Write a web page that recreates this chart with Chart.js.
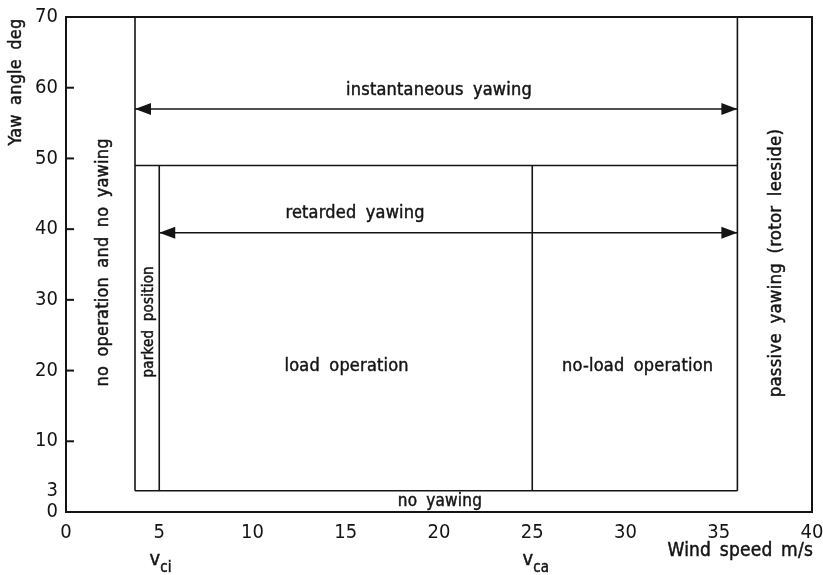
<!DOCTYPE html>
<html>
<head>
<meta charset="utf-8">
<script src="https://cdn.jsdelivr.net/npm/chart.js@4/dist/chart.umd.min.js"></script>
<style>
  html, body { margin: 0; padding: 0; background: #fff; }
  #wrap { width: 823px; height: 575px; }
</style>
</head>
<body>
<div id="wrap"><canvas id="c" width="823" height="575"></canvas></div>
<script>
// Axis ticks
const xTicks = [0, 5, 10, 15, 20, 25, 30, 35, 40];
const yTicks = [0, 3, 10, 20, 30, 40, 50, 60, 70];

// Wind speeds (m/s) bounding the operating regions:
// start of yawing, cut-in v_ci, cut-out v_ca, end of active yawing
const speedBounds = [3.7, 5, 25, 36];
// Yaw angles (deg): no-yawing limit, retarded/instantaneous limit, top of range
const yawBounds = [3, 49, 70];
// Yaw angles (deg) of the two range arrows: instantaneous, retarded
const arrowLevels = [57, 39.5];

// Region labels: text, wind speed, yaw angle, rotation (deg), font size
const regionText  = ['instantaneous yawing', 'retarded yawing', 'load operation', 'no-load operation',
                     'no yawing', 'no operation and no yawing', 'passive yawing (rotor leeside)', 'parked position'];
const regionSpeed = [20.0, 15.5, 15.05, 30.65, 20.05, 2.0, 38.1, 4.45];
const regionYaw   = [59.7, 42.2, 20.6, 20.6, 1.5, 35.3, 35.2, 26.9];
const regionRot   = [0, 0, 0, 0, 0, -90, -90, -90];
const regionSize  = [18, 18, 18, 18, 17, 18, 18.5, 15];

const FONT = '"Liberation Sans Narrow", "DejaVu Sans Condensed", "Arial Narrow", sans-serif';
const INK = '#141414';

const [vStart, vCi, vCa, vEnd] = speedBounds;
const [yLow, yMid, yTop] = yawBounds;

function seg(x1, y1, x2, y2) {
  return {
    data: [{ x: x1, y: y1 }, { x: x2, y: y2 }],
    showLine: true, borderColor: INK, borderWidth: 1.6,
    pointRadius: 0, fill: false
  };
}

const datasets = [
  seg(vStart, yLow, vStart, yTop),
  seg(vEnd, yLow, vEnd, yTop),
  seg(vStart, yMid, vEnd, yMid),
  seg(vStart, yLow, vEnd, yLow),
  seg(vCi, yLow, vCi, yMid),
  seg(vCa, yLow, vCa, yMid),
  seg(vStart, arrowLevels[0], vEnd, arrowLevels[0]),
  seg(vCi, arrowLevels[1], vEnd, arrowLevels[1])
];
// double-headed arrows: [from, to, level]
const arrows = [[vStart, vEnd, arrowLevels[0]], [vCi, vEnd, arrowLevels[1]]];

// lettering is drawn slightly heavier with a thin outline
function drawText(ctx, text, x, y, rot, size, align, baseline, ws) {
  ctx.save();
  ctx.translate(x, y);
  ctx.rotate(rot * Math.PI / 180);
  ctx.font = size + 'px ' + FONT;
  ctx.fillStyle = INK;
  ctx.strokeStyle = INK;
  ctx.lineWidth = 0.45;
  ctx.textAlign = align || 'center';
  ctx.textBaseline = baseline || 'middle';
  if ('letterSpacing' in ctx) ctx.letterSpacing = '0.2px';
  if ('wordSpacing' in ctx) ctx.wordSpacing = (ws == null ? 4 : ws) + 'px';
  ctx.fillText(text, 0, 0);
  ctx.strokeText(text, 0, 0);
  ctx.restore();
}

const decor = {
  id: 'decor',
  afterDatasetsDraw(chart) {
    const { ctx, chartArea: a, scales: { x, y } } = chart;
    ctx.save();
    // frame
    ctx.strokeStyle = INK;
    ctx.lineWidth = 2;
    ctx.strokeRect(a.left, a.top, a.right - a.left, a.bottom - a.top);
    // inward tick marks on the angle axis
    yTicks.filter(v => v % 10 === 0).forEach(v => {
      const py = y.getPixelForValue(v);
      ctx.beginPath();
      ctx.moveTo(a.left, py);
      ctx.lineTo(a.left + 8, py);
      ctx.stroke();
    });
    // arrowheads
    ctx.fillStyle = INK;
    const L = 16, W = 6;
    arrows.forEach(([x1, x2, lv]) => {
      const py = y.getPixelForValue(lv);
      const p1 = x.getPixelForValue(x1), p2 = x.getPixelForValue(x2);
      ctx.beginPath();
      ctx.moveTo(p1, py); ctx.lineTo(p1 + L, py - W); ctx.lineTo(p1 + L, py + W); ctx.closePath(); ctx.fill();
      ctx.beginPath();
      ctx.moveTo(p2, py); ctx.lineTo(p2 - L, py - W); ctx.lineTo(p2 - L, py + W); ctx.closePath(); ctx.fill();
    });
    // region labels
    regionText.forEach((t, i) => {
      drawText(ctx, t, x.getPixelForValue(regionSpeed[i]), y.getPixelForValue(regionYaw[i]),
               regionRot[i], regionSize[i]);
    });
    // axis titles
    drawText(ctx, 'Yaw angle deg', 16, 82, -90, 18);
    drawText(ctx, 'Wind speed m/s', a.right + 1, 556, 0, 19, 'right', 'alphabetic', 3);
    // characteristic speeds with subscripts
    [[vCi, 'ci'], [vCa, 'ca']].forEach(([v, sub]) => {
      const px = x.getPixelForValue(Math.round(v));
      drawText(ctx, 'v', px + 1, 565, 0, 20, 'right', 'alphabetic');
      drawText(ctx, sub, px + 1, 572, 0, 15, 'left', 'alphabetic');
    });
    ctx.restore();
  }
};

new Chart(document.getElementById('c'), {
  type: 'scatter',
  data: { datasets },
  options: {
    responsive: false,
    animation: false,
    devicePixelRatio: 1,
    layout: { padding: { left: 0, top: 17, right: 11, bottom: 0 } },
    plugins: { legend: { display: false }, tooltip: { enabled: false } },
    scales: {
      x: {
        type: 'linear', min: 0, max: 40,
        afterBuildTicks: s => { s.ticks = xTicks.map(v => ({ value: v })); },
        afterFit: s => { s.height = 63; s.paddingLeft = 0; s.paddingRight = 0; },
        grid: { display: false, drawTicks: false },
        border: { display: false },
        ticks: { color: INK, font: { family: FONT, size: 20 }, padding: 9, maxRotation: 0, autoSkip: false }
      },
      y: {
        type: 'linear', min: 0, max: 70,
        afterBuildTicks: s => { s.ticks = yTicks.map(v => ({ value: v })); },
        afterFit: s => { s.width = 66; s.paddingTop = 0; s.paddingBottom = 0; },
        grid: { display: false, drawTicks: false },
        border: { display: false },
        ticks: { color: INK, font: { family: FONT, size: 20 }, padding: 8, autoSkip: false }
      }
    }
  },
  plugins: [decor]
});
</script>
</body>
</html>
